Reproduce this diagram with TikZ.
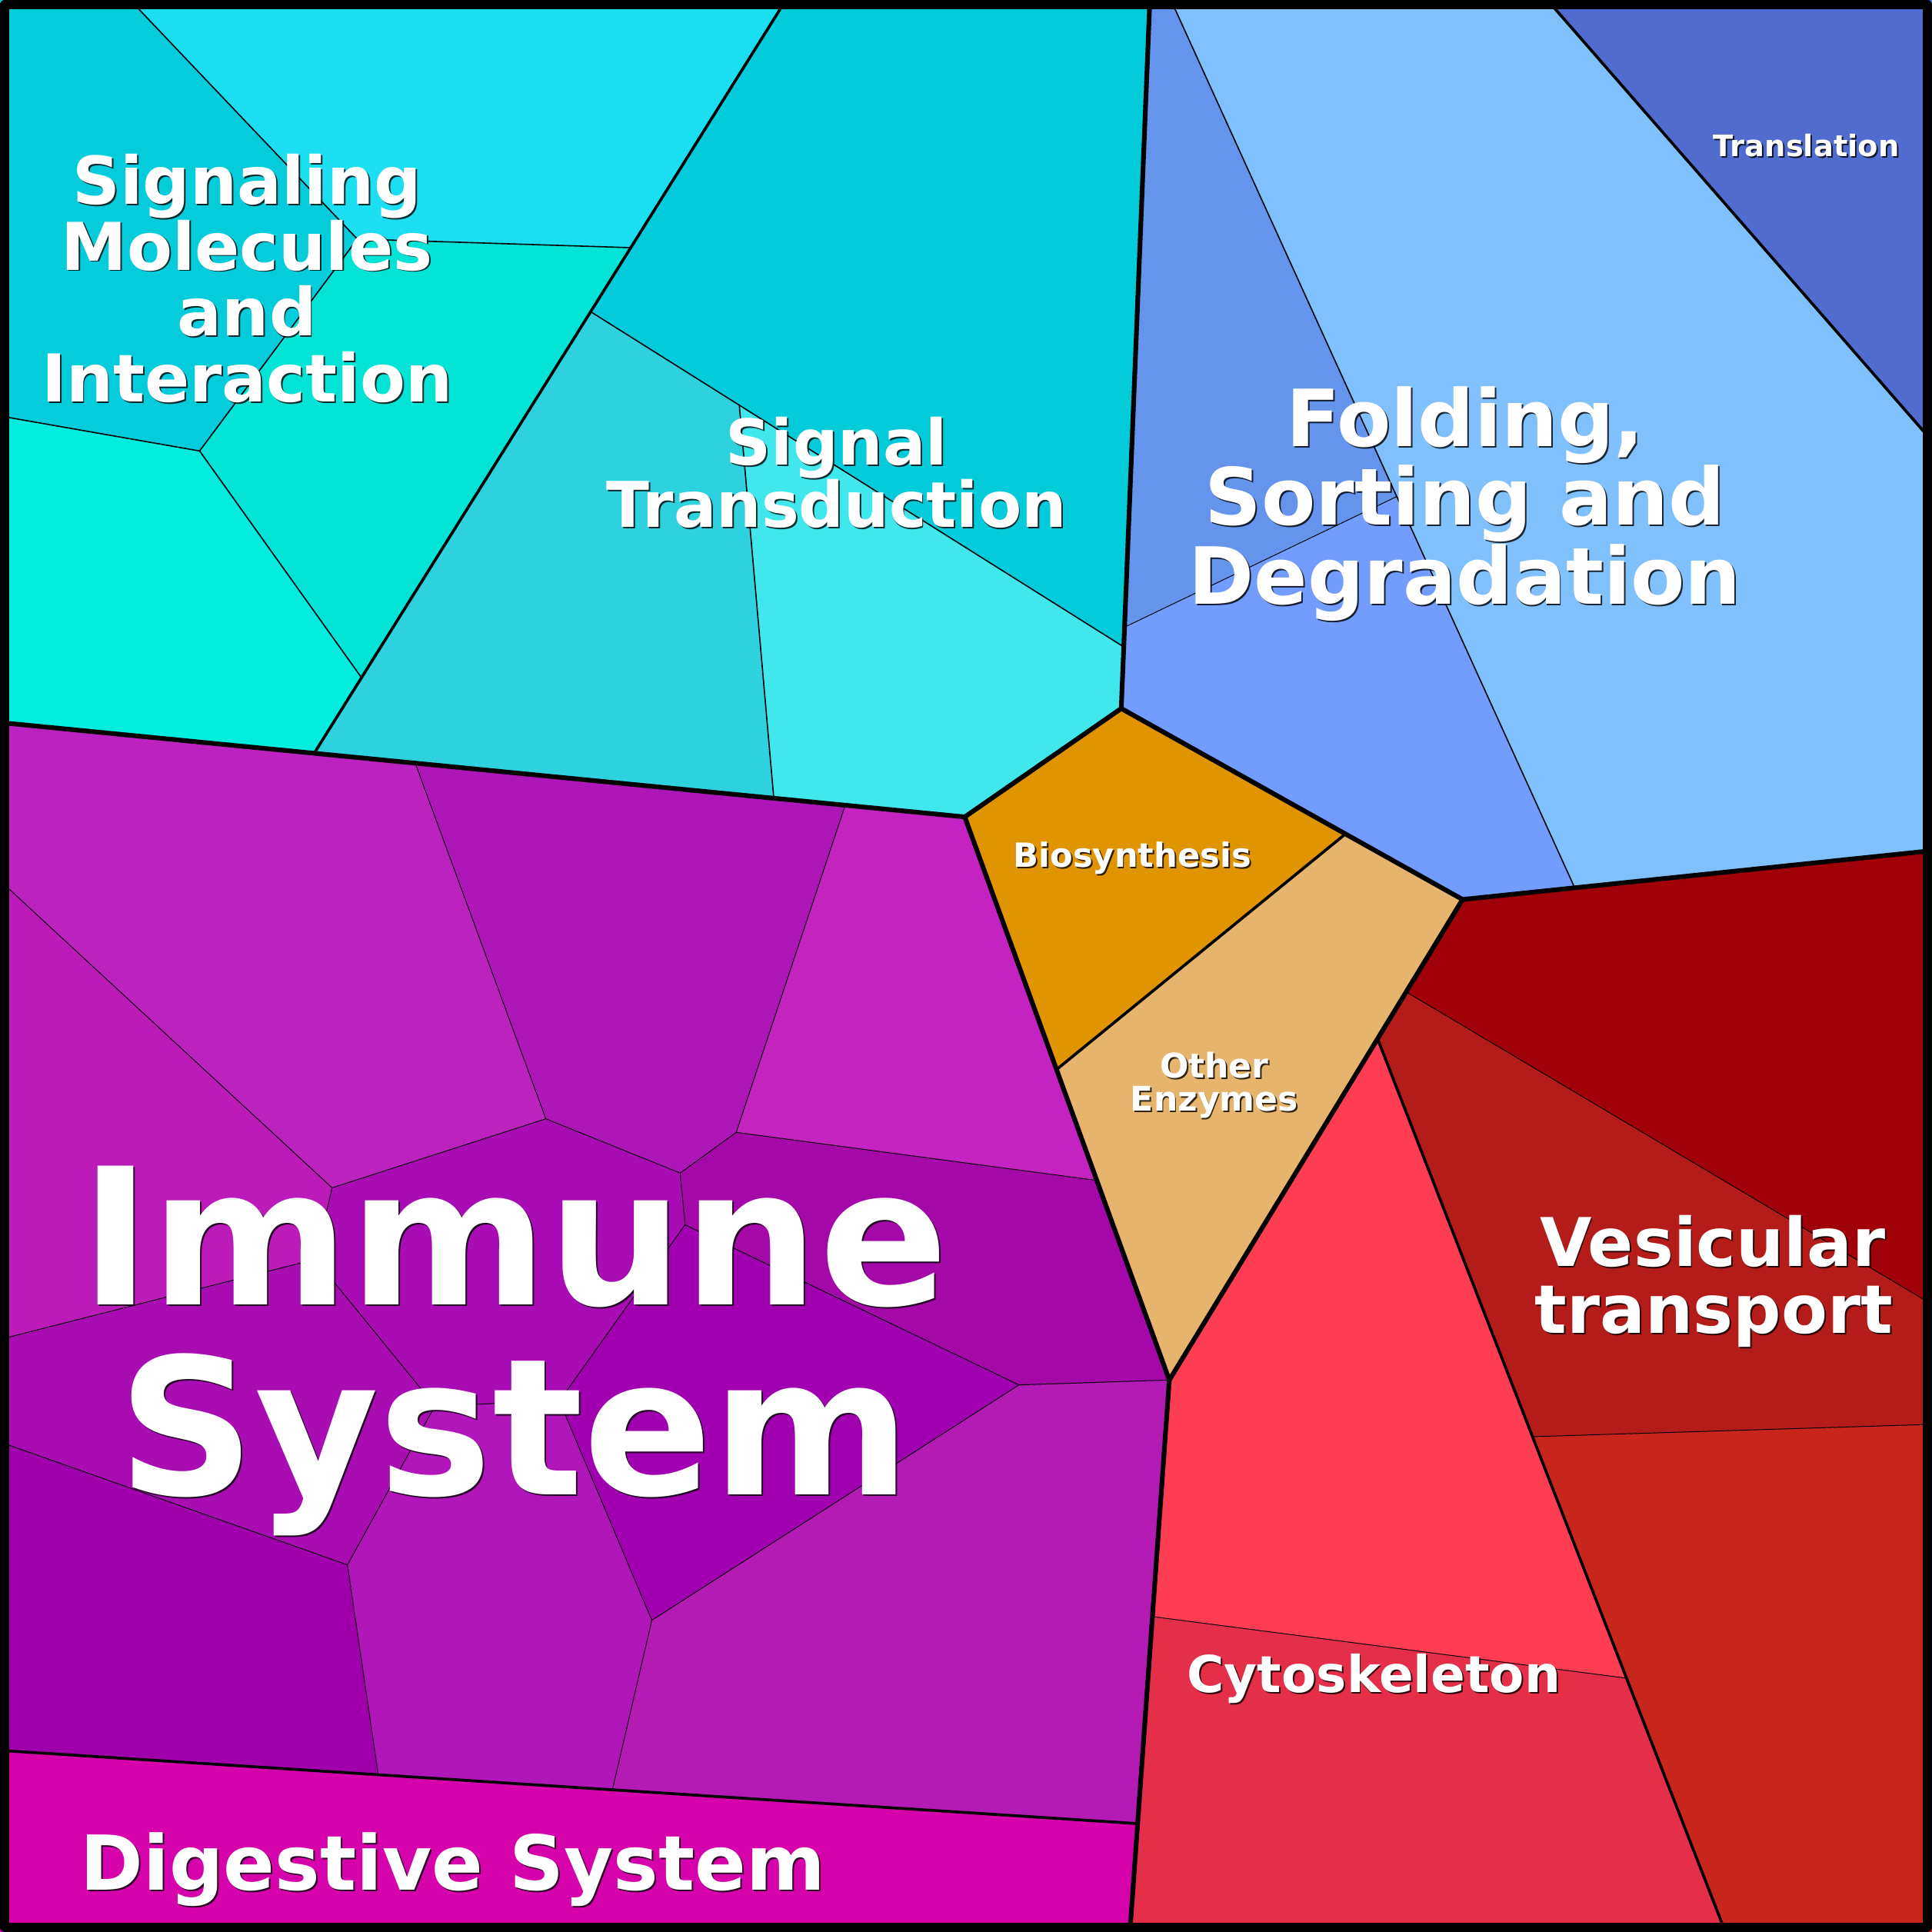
\documentclass[tikz,border=0pt]{standalone}
\usepackage{fontspec}
\setmainfont{DejaVu Sans}
\definecolor{cSa}{HTML}{04CCDB}
\definecolor{cSb}{HTML}{1BDEF0}
\definecolor{cSc}{HTML}{03E3D6}
\definecolor{cSd}{HTML}{03EDDF}
\definecolor{cTa}{HTML}{04CBDA}
\definecolor{cTb}{HTML}{2DD2DE}
\definecolor{cTc}{HTML}{40E8EE}
\definecolor{cFa}{HTML}{6494EC}
\definecolor{cFb}{HTML}{729CFE}
\definecolor{cFc}{HTML}{80C0FC}
\definecolor{cTr}{HTML}{506CCE}
\definecolor{cBio}{HTML}{E09400}
\definecolor{cOth}{HTML}{E6B46C}
\definecolor{cVa}{HTML}{A00008}
\definecolor{cVb}{HTML}{B31C18}
\definecolor{cVc}{HTML}{C8261C}
\definecolor{cCa}{HTML}{FF3D52}
\definecolor{cCb}{HTML}{E52F48}
\definecolor{cDig}{HTML}{D602AC}
\definecolor{cIa}{HTML}{BB22C0}
\definecolor{cIb}{HTML}{AF16BA}
\definecolor{cIc}{HTML}{C523C1}
\definecolor{cId}{HTML}{BD1ABA}
\definecolor{cIe}{HTML}{A90CB4}
\definecolor{cIf}{HTML}{A508A8}
\definecolor{cIg}{HTML}{A80CB2}
\definecolor{cIh}{HTML}{A000AF}
\definecolor{cIi}{HTML}{A000AC}
\definecolor{cIj}{HTML}{B016B9}
\definecolor{cIk}{HTML}{B41AB4}
\newcommand\vlabel[5]{%
  \node[lblshadow, font=\fontsize{#4}{#4}\selectfont\bfseries] (#1-sh) at (#2+1.2,#3+1.2) {#5};
  \node[lbltxt, font=\fontsize{#4}{#4}\selectfont\bfseries] (#1) at (#2,#3) {#5};}
\begin{document}
\begin{tikzpicture}[x=1pt,y=-1pt,line join=round,line cap=round,
  lvone/.style={line width=3.8pt},
  lvtwo/.style={line width=2.3pt},
  lvthree/.style={line width=1.0pt},
  lvfour/.style={line width=0.6pt},
  lbltxt/.style={text=white,inner sep=0pt,anchor=base},
  lblshadow/.style={text=black,text opacity=0.8,inner sep=0pt,anchor=base}]
\useasboundingbox (0,0) rectangle (1568,1568);
% border points
\coordinate (TL) at (0,0);
\coordinate (TR) at (1568,0);
\coordinate (BR) at (1568,1568);
\coordinate (BL) at (0,1568);
\coordinate (sA) at (105.6,0);
\coordinate (sB) at (637.8,0);
\coordinate (sC) at (933.2,0);
\coordinate (sD) at (950.3,0);
\coordinate (sE) at (1255.8,0);
\coordinate (rA) at (1568,357.9);
\coordinate (rB) at (1568,690.4);
\coordinate (rC) at (1568,1058.6);
\coordinate (rD) at (1568,1156);
\coordinate (bA) at (1400.3,1568);
\coordinate (bB) at (917,1568);
\coordinate (lA) at (0,337.6);
\coordinate (lB) at (0,586.4);
\coordinate (lC) at (0,714.7);
\coordinate (lD) at (0,1087);
\coordinate (lE) at (0,1170.3);
\coordinate (lF) at (0,1420.6);
% interior points
\coordinate (A) at (910,575);
\coordinate (B) at (783,663);
\coordinate (C) at (1187,730);
\coordinate (D) at (949,1120);
\coordinate (E) at (1092,676.8);
\coordinate (F) at (857.5,868);
\coordinate (J1) at (290,194);
\coordinate (J2) at (511.9,201);
\coordinate (J3) at (162,366);
\coordinate (J4) at (293.4,550);
\coordinate (Q) at (255,611.3);
\coordinate (T1) at (479.4,253);
\coordinate (T2) at (600,328.8);
\coordinate (T3) at (912,525);
\coordinate (T4) at (628,647.8);
\coordinate (G1) at (912.7,509);
\coordinate (G2) at (1133.6,403);
\coordinate (G3) at (1278,720.5);
\coordinate (V1) at (1141.2,805);
\coordinate (V2) at (1118,843);
\coordinate (V3) at (1243.8,1166);
\coordinate (K1) at (935.3,1312);
\coordinate (K2) at (1320.1,1362);
\coordinate (M1) at (923.3,1480);
\coordinate (P1) at (337,619.4);
\coordinate (P2) at (686,653.5);
\coordinate (P3) at (443,908);
\coordinate (P4) at (552,952);
\coordinate (P5) at (597.5,919);
\coordinate (P6) at (890.2,958);
\coordinate (P7) at (269.5,964);
\coordinate (P9) at (556,994);
\coordinate (P10) at (827,1124);
\coordinate (P12) at (256,1022);
\coordinate (P13) at (353,1141);
\coordinate (P14) at (454,1137);
\coordinate (P15) at (529,1315);
\coordinate (P16) at (497,1452.6);
\coordinate (P17) at (282,1270);
\coordinate (P18) at (307,1440.4);
% ---- fills: Signaling Molecules
\fill[cSa] (TL) -- (sA) -- (J1) -- (J3) -- (lA) -- cycle;
\fill[cSb] (sA) -- (sB) -- (J2) -- (J1) -- cycle;
\fill[cSc] (J1) -- (J2) -- (J4) -- (J3) -- cycle;
\fill[cSd] (lA) -- (J3) -- (J4) -- (Q) -- (lB) -- cycle;
% Signal Transduction
\fill[cTa] (sB) -- (sC) -- (T3) -- (T2) -- (T1) -- cycle;
\fill[cTb] (T1) -- (T2) -- (T4) -- (Q) -- cycle;
\fill[cTc] (T2) -- (T3) -- (A) -- (B) -- (T4) -- cycle;
% Folding, Translation
\fill[cFa] (sC) -- (sD) -- (G2) -- (G1) -- cycle;
\fill[cFb] (G1) -- (G2) -- (G3) -- (C) -- (A) -- cycle;
\fill[cFc] (sD) -- (sE) -- (rA) -- (rB) -- (G3) -- cycle;
\fill[cTr] (sE) -- (TR) -- (rA) -- cycle;
% Metabolism
\fill[cBio] (A) -- (E) -- (F) -- (B) -- cycle;
\fill[cOth] (E) -- (C) -- (D) -- (F) -- cycle;
% Vesicular transport
\fill[cVa] (C) -- (rB) -- (rC) -- (V1) -- cycle;
\fill[cVb] (V1) -- (rC) -- (rD) -- (V3) -- (V2) -- cycle;
\fill[cVc] (V3) -- (rD) -- (BR) -- (bA) -- cycle;
% Cytoskeleton
\fill[cCa] (V2) -- (D) -- (K1) -- (K2) -- cycle;
\fill[cCb] (K1) -- (K2) -- (bA) -- (bB) -- cycle;
% Digestive
\fill[cDig] (lF) -- (M1) -- (bB) -- (BL) -- cycle;
% Immune
\fill[cIa] (lB) -- (P1) -- (P3) -- (P7) -- (lC) -- cycle;
\fill[cIb] (P1) -- (P2) -- (P5) -- (P4) -- (P3) -- cycle;
\fill[cIc] (P2) -- (B) -- (P6) -- (P5) -- cycle;
\fill[cId] (lC) -- (P7) -- (P12) -- (lD) -- cycle;
\fill[cIe] (P7) -- (P3) -- (P4) -- (P9) -- (P14) -- (P13) -- (P12) -- cycle;
\fill[cIf] (P5) -- (P6) -- (D) -- (P10) -- (P9) -- (P4) -- cycle;
\fill[cIg] (lD) -- (P12) -- (P13) -- (P17) -- (lE) -- cycle;
\fill[cIh] (P9) -- (P10) -- (P15) -- (P14) -- cycle;
\fill[cIi] (lE) -- (P17) -- (P18) -- (lF) -- cycle;
\fill[cIj] (P17) -- (P13) -- (P14) -- (P15) -- (P16) -- (P18) -- cycle;
\fill[cIk] (P15) -- (P10) -- (D) -- (M1) -- (P16) -- cycle;
% ---- thin lines
\draw[lvthree] (sA) -- (J1) -- (J2) (J1) -- (J3) (lA) -- (J3) -- (J4);
\draw[lvthree] (T1) -- (T3) (T2) -- (T4);
\draw[lvthree] (sD) -- (G3);
\draw[lvfour] (G1) -- (G2);
\draw[lvfour] (V1) -- (rC) (V3) -- (rD) (K1) -- (K2);
\draw[lvfour] (P1) -- (P3) (P2) -- (P5) (lC) -- (P7) -- (P3) -- (P4) -- (P5) -- (P6)
  (P4) -- (P9) -- (P10) -- (D) (P7) -- (P12) (lD) -- (P12) -- (P13) -- (P14)
  (P9) -- (P14) -- (P15) (P10) -- (P15) -- (P16) (P13) -- (P17) (lE) -- (P17) -- (P18);
% ---- level 2 lines
\draw[lvtwo] (sB) -- (Q);
\draw[lvtwo] (sE) -- (rA);
\draw[lvtwo] (E) -- (F);
\draw[lvtwo] (V2) -- (bA);
\draw[lvtwo] (lF) -- (M1);
% ---- level 1 lines
\draw[lvone] (lB) -- (B) -- (A) -- (sC);
\draw[lvone] (A) -- (C) -- (D) -- (B);
\draw[lvone] (C) -- (rB);
\draw[lvone] (D) -- (bB);
% ---- frame
\draw[line width=7.6pt] (3.8,3.8) rectangle (1564.2,1564.2);
% ---- labels
\vlabel{sig1}{200.5}{165.5}{53.6}{Signaling}
\vlabel{sig2}{200.5}{219.1}{53.6}{Molecules}
\vlabel{sig3}{200.5}{272.7}{53.6}{and}
\vlabel{sig4}{200.5}{326.3}{53.6}{Interaction}
\vlabel{st1}{679}{377.5}{51.2}{Signal}
\vlabel{st2}{679}{427.9}{51.2}{Transduction}
\vlabel{fo1}{1189}{362.3}{64}{Folding,}
\vlabel{fo2}{1189}{426.2}{64}{Sorting and}
\vlabel{fo3}{1189}{490.1}{64}{Degradation}
\vlabel{tra}{1466}{127}{24}{Translation}
\vlabel{bio}{919}{703.8}{27}{Biosynthesis}
\vlabel{oe1}{985.5}{875}{27.5}{Other}
\vlabel{oe2}{985.5}{901.6}{27.5}{Enzymes}
\vlabel{ve1}{1390}{1027.5}{54.5}{Vesicular}
\vlabel{ve2}{1391}{1082}{54.5}{transport}
\vlabel{cyt}{1115}{1373.5}{41.2}{Cytoskeleton}
\vlabel{im1}{417.5}{1058.7}{154.5}{Immune}
\vlabel{im2}{417.5}{1213.2}{154.5}{System}
\vlabel{dig}{367.5}{1534}{61.5}{Digestive System}
\end{tikzpicture}
\end{document}
